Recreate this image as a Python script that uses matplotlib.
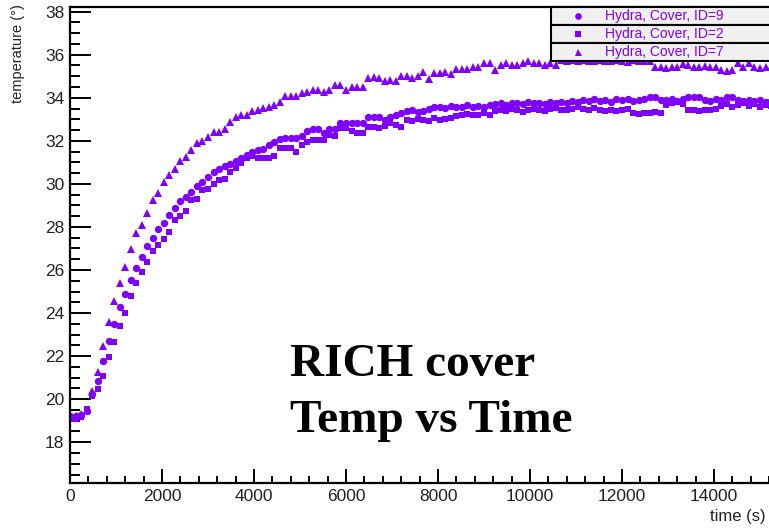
import numpy as np
import matplotlib
matplotlib.use("Agg")
import matplotlib.pyplot as plt
from matplotlib.ticker import MultipleLocator
from matplotlib.patches import Rectangle
from matplotlib.lines import Line2D

# sampling: one reading every ~120 s, starting at t = 0
DT = 120.0
N = 128

# Hydra, Cover, ID=9 (circles)
temp_id9 = [
    19.20, 19.20, 19.25, 19.45, 20.25,
    20.84, 21.78, 22.70, 23.49, 24.27, 24.89, 25.55, 26.08, 26.60, 27.11,
    27.48, 27.92, 28.18, 28.57, 28.88, 29.19, 29.39, 29.63, 29.91, 30.09,
    30.33, 30.53, 30.71, 30.84, 30.93, 31.06, 31.21, 31.33, 31.46, 31.57,
    31.60, 31.80, 31.96, 32.08, 32.14, 32.14, 32.14, 32.24, 32.45, 32.53,
    32.53, 32.38, 32.53, 32.53, 32.81, 32.81, 32.81, 32.81, 32.81, 33.12,
    33.12, 33.12, 32.97, 33.12, 33.20,
    33.30, 33.38, 33.43, 33.35, 33.40, 33.50,
    33.55, 33.59, 33.52, 33.62, 33.59, 33.55, 33.66, 33.59, 33.62, 33.55, 33.66,
    33.70, 33.74, 33.66, 33.78, 33.74, 33.70, 33.80, 33.74, 33.78, 33.70,
    33.82, 33.74, 33.80, 33.76, 33.85, 33.80,
    33.88, 33.84, 33.92, 33.86, 33.90, 33.80, 33.92, 33.88, 33.95, 33.86, 33.90, 33.95,
    34.05, 34.02, 33.90,
    33.88, 33.92, 33.85, 33.95, 34.05, 34.05, 34.02,
    33.90, 33.85, 33.92, 33.88, 34.05,
    34.05, 33.90, 33.85, 33.90, 33.85, 33.88, 33.82, 33.86,
]

# Hydra, Cover, ID=2 (squares)
temp_id2 = [
    19.10, 19.10, 19.15, 19.55, 20.15, 20.45,
    21.08, 21.98, 22.66, 23.38, 23.99, 24.78, 25.40, 25.90, 26.39, 26.86,
    27.17, 27.45, 27.76, 28.30, 28.51, 28.72, 29.24, 29.28, 29.70, 29.78,
    30.01, 30.17, 30.25, 30.53, 30.75, 30.95, 31.18, 31.31, 31.18, 31.18,
    31.18, 31.31, 31.65, 31.65, 31.68, 31.49, 31.80, 31.96, 32.03, 32.03,
    32.03, 32.27, 32.24, 32.58, 32.58, 32.45, 32.35, 32.35, 32.66, 32.66,
    32.58, 32.70, 32.81, 32.73,
    32.66,
    32.95, 32.90, 33.00, 32.97, 32.92, 33.05, 32.97, 33.02, 33.08,
    33.15, 33.20, 33.24, 33.18, 33.22, 33.28, 33.20,
    33.38, 33.43, 33.40, 33.48, 33.43, 33.36, 33.45, 33.50, 33.43, 33.40,
    33.48, 33.52, 33.45, 33.43, 33.50, 33.55, 33.48, 33.45, 33.52,
    33.43, 33.38, 33.45, 33.40, 33.43, 33.48,
    33.28, 33.25, 33.30, 33.28, 33.35, 33.30,
    33.66, 33.75, 33.80, 33.70,
    33.45, 33.43, 33.40, 33.43, 33.45, 33.48,
    33.60, 33.70, 33.55, 33.65, 33.75, 33.60, 33.70, 33.55, 33.68, 33.62,
]

# Hydra, Cover, ID=7 (triangles)
temp_id7 = [
    19.20, 19.20, 19.30, 19.50,
    20.38, 21.24, 22.48, 23.57, 24.55, 25.38, 26.16, 26.98, 27.73, 28.07,
    28.66, 29.27, 29.58, 30.09, 30.40, 30.68, 31.07, 31.26, 31.57, 31.88,
    31.99, 32.16, 32.39, 32.39, 32.55, 32.89, 33.12, 33.20, 33.20, 33.40,
    33.43, 33.54, 33.59, 33.66, 33.82, 34.10, 34.10, 34.10, 34.21, 34.29,
    34.38, 34.38, 34.29, 34.36, 34.60, 34.60, 34.36, 34.48, 34.48, 34.48,
    34.91, 34.97, 34.94, 34.76, 34.83, 34.76,
    34.99, 34.99, 34.91, 34.99, 35.22, 34.88, 35.14, 35.14, 35.22, 35.10,
    35.33, 35.33, 35.33, 35.41, 35.41, 35.61, 35.61, 35.30, 35.53, 35.61,
    35.50, 35.50, 35.61, 35.72, 35.61, 35.61, 35.50, 35.61, 35.50, 35.76,
    35.70, 35.76, 35.72, 35.74, 35.72, 35.70, 35.76, 35.72, 35.70, 35.74,
    35.72, 35.68, 35.74, 35.72, 35.70, 35.72,
    35.45, 35.41, 35.40, 35.41, 35.43, 35.55, 35.52, 35.45, 35.43, 35.48,
    35.43, 35.41, 35.30, 35.25, 35.27, 35.60, 35.45, 35.62, 35.42, 35.40,
    35.43, 35.42,
]

labels = ["Hydra, Cover, ID=9", "Hydra, Cover, ID=2", "Hydra, Cover, ID=7"]
markers = ["o", "s", "^"]
msizes = [5.3, 4.9, 5.6]

time = np.arange(N) * DT
PURPLE = "#7f00ff"

W, H = 769, 528
plt.rcParams["font.family"] = ["Liberation Sans", "DejaVu Sans"]
fig = plt.figure(figsize=(W / 100, H / 100), dpi=100)

def fx(px):
    return px / W

def fy(py):
    return 1 - py / H

ax = fig.add_axes([fx(70), fy(482.5), fx(775) - fx(70), fy(6.7) - fy(482.5)])

for temps, m, ms in zip([temp_id9, temp_id2, temp_id7], markers, msizes):
    ax.plot(time, temps, linestyle="none", marker=m, markersize=ms,
            color=PURPLE, markeredgewidth=0, clip_on=True)

ax.set_xlim(0, (775 - 70) * 2000 / 92.0)
ax.set_ylim(16.13, 38.23)

ax.xaxis.set_major_locator(MultipleLocator(2000))
ax.xaxis.set_minor_locator(MultipleLocator(400))
ax.yaxis.set_major_locator(MultipleLocator(2))
ax.yaxis.set_minor_locator(MultipleLocator(0.5))

ax.tick_params(axis="x", which="major", direction="in", length=10, width=1.4,
               labelsize=12.5, pad=5, top=False)
ax.tick_params(axis="x", which="minor", direction="in", length=5, width=1.4, top=False)
ax.tick_params(axis="y", which="major", direction="in", length=15, width=1.4,
               labelsize=12.5, pad=4, right=False)
ax.tick_params(axis="y", which="minor", direction="in", length=7.5, width=1.4, right=False)
for lab in ax.get_xticklabels() + ax.get_yticklabels():
    lab.set_color("#222222")

for s in ["left", "bottom", "top"]:
    ax.spines[s].set_linewidth(1.6)
ax.spines["right"].set_visible(False)

# axis titles (ROOT style, aligned to the ends of the axes)
fig.text(fx(766), fy(516), "time (s)", ha="right", va="center", fontsize=12, color="#222222")
fig.text(fx(18), fy(4), "temperature (°)", ha="center", va="top", rotation=90,
         fontsize=10.5, color="#222222")

# legend: three stacked boxes in the top right corner
row_top = [6.7, 24.7, 42.7]
row_h = 18.0
for i, (lab, m, ms) in enumerate(zip(labels, markers, msizes)):
    y0 = row_top[i]
    fig.add_artist(Rectangle((fx(551), fy(y0 + row_h)), fx(790) - fx(551), fy(y0) - fy(y0 + row_h),
                             transform=fig.transFigure, facecolor="#f0f0f0",
                             edgecolor="black", linewidth=1.5, zorder=5))
    yc = y0 + row_h / 2 + 0.5
    fig.add_artist(Line2D([fx(578)], [fy(yc)], marker=m, markersize=ms * 0.9, color=PURPLE,
                          markeredgewidth=0, linestyle="none", transform=fig.transFigure, zorder=6))
    fig.text(fx(605), fy(yc), lab, ha="left", va="center", fontsize=10, color=PURPLE, zorder=6)

# big annotation
fig.text(fx(290), fy(376), "RICH cover", ha="left", va="baseline", fontsize=34,
         fontweight="bold", family="Liberation Serif", color="black")
fig.text(fx(290), fy(432), "Temp vs Time", ha="left", va="baseline", fontsize=34,
         fontweight="bold", family="Liberation Serif", color="black")

fig.savefig("out.png", dpi=100)
